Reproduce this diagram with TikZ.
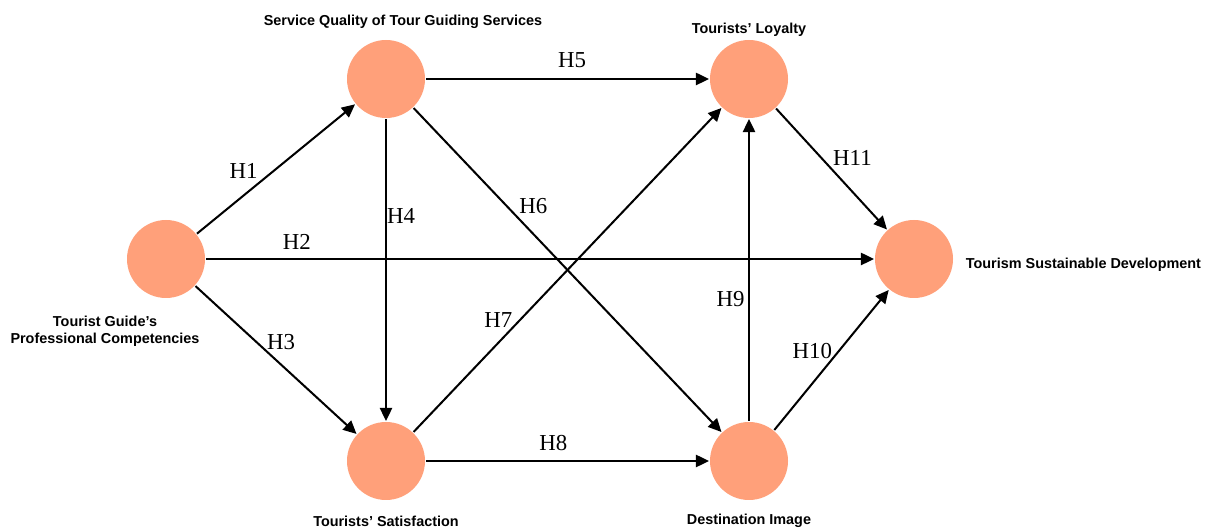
\documentclass[tikz,border=0pt]{standalone}
\usepackage{fontspec}
\setmainfont{Liberation Serif}
\setsansfont{Liberation Sans}
\usepackage{xcolor}
\usetikzlibrary{positioning}
\usetikzlibrary{arrows.meta}
\definecolor{salmon}{HTML}{FFA07A}
\tikzset{
  construct/.style={circle,fill=salmon,minimum size=1.56cm,inner sep=0pt},
  caption/.style={font=\sffamily\bfseries\fontsize{8.2}{9.6}\selectfont,align=center},
  hyp/.style={font=\fontsize{13}{15}\selectfont,inner sep=2pt}
}
\begin{document}
\begin{tikzpicture}[>={Triangle[length=7.5pt,width=7pt]},line width=1.15pt,node distance=3cm,on grid]
  \useasboundingbox (0,0) rectangle (24.14,10.6);
  \node[construct] (comp) at (3.32,5.42) {};
  \node[construct] (qual) [above right=3.6cm and 4.4cm of comp] {};
  \node[construct] (sat)  [below=7.64cm of qual] {};
  \node[construct] (loy)  [right=7.26cm of qual] {};
  \node[construct] (img)  [right=7.26cm of sat] {};
  \node[construct] (sust) [below right=3.6cm and 3.3cm of loy] {};
  % construct names
  \node[caption] (compL) [below left=1.44cm and 1.22cm of comp] {Tourist Guide's\\Professional Competencies};
  \node[caption] (qualL) [above right=1.14cm and 0.34cm of qual] {Service Quality of Tour Guiding Services};
  \node[caption] (satL)  [below=1.2cm of sat] {Tourists' Satisfaction};
  \node[caption] (loyL)  [above=0.98cm of loy] {Tourists' Loyalty};
  \node[caption] (imgL)  [below=1.2cm of img] {Destination Image};
  \node[caption] (sustL) [right=0.9cm of sust, anchor=west, yshift=-0.12cm] {Tourism Sustainable Development};
  % hypotheses
  \path[->] (comp) edge node[hyp,pos=0.39,above left,xshift=2pt] {H1} (qual);
  \path[->] (comp) edge node[hyp,pos=0.136,above=3pt] {H2} (sust);
  \path[->] (comp) edge node[hyp,pos=0.46,above right,xshift=-4pt] {H3} (sat);
  \path[->] (qual) edge node[hyp,pos=0.32,right,inner sep=0pt] {H4} (sat);
  \path[->] (qual) edge node[hyp,pos=0.516,above=4pt] {H5} (loy);
  \path[->] (qual) edge node[hyp,pos=0.34,above right,xshift=-2pt] {H6} (img);
  \path[->] (sat)  edge node[hyp,pos=0.31,above left,xshift=4.5pt] {H7} (loy);
  \path[->] (sat)  edge node[hyp,pos=0.45,above=3pt] {H8} (img);
  \path[->] (img)  edge node[hyp,pos=0.405,left] {H9} (loy);
  \path[->] (img)  edge node[hyp,pos=0.475,above left,xshift=4.5pt] {H10} (sust);
  \path[->] (loy)  edge node[hyp,pos=0.53,above right,xshift=-3.5pt,yshift=1.5pt] {H11} (sust);
\end{tikzpicture}
\end{document}
